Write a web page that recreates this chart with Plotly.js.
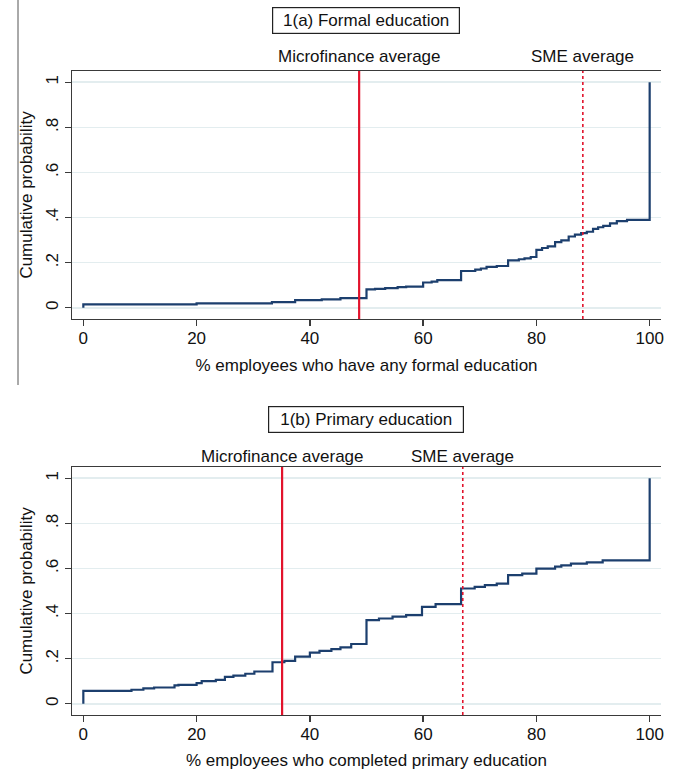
<!DOCTYPE html>
<html>
<head>
<meta charset="utf-8">
<script src="https://cdn.plot.ly/plotly-3.0.1.min.js"></script>
<style>
  html, body { margin: 0; padding: 0; background: #ffffff; }
  #chart { width: 676px; height: 770px; }
</style>
</head>
<body>
<div id="chart"></div>
<script>
// ---------- Data ----------
// Panel 1(a): % employees who have any formal education (empirical CDF steps)
const formalX = [0, 0, 20, 33.3, 37.4, 42.1, 45.4, 50, 51.5, 53.3, 55.5, 57, 60, 61.5, 62.5, 66.7, 69.2, 70.2, 71.2, 73, 75, 76.9, 77.9, 79, 80, 81, 82, 83.3, 84.4, 85.7, 86.8, 87.9, 88.9, 90, 90.9, 91.8, 93, 94.2, 96, 100];
const formalY = [0, 0.015, 0.019, 0.025, 0.034, 0.037, 0.043, 0.081, 0.084, 0.087, 0.091, 0.094, 0.112, 0.116, 0.122, 0.163, 0.169, 0.174, 0.181, 0.185, 0.21, 0.215, 0.219, 0.225, 0.257, 0.265, 0.272, 0.291, 0.299, 0.316, 0.324, 0.331, 0.337, 0.35, 0.357, 0.363, 0.374, 0.384, 0.39, 1];

// Panel 1(b): % employees who completed primary education (empirical CDF steps)
const primaryX = [0, 0, 8.5, 10.6, 12.5, 16.1, 16.8, 20, 20.9, 23.4, 25, 26.5, 28.6, 30.2, 33.4, 35.5, 37.4, 40, 41.7, 43.8, 45.4, 47.3, 50, 52.2, 54.6, 57, 59.8, 62.2, 66.7, 69.1, 70.9, 73, 75, 77.5, 80, 83.3, 84.4, 86.1, 88.9, 91.7, 100];
const primaryY = [0, 0.057, 0.062, 0.068, 0.072, 0.081, 0.084, 0.091, 0.1, 0.106, 0.119, 0.125, 0.133, 0.143, 0.184, 0.19, 0.209, 0.227, 0.234, 0.242, 0.25, 0.265, 0.371, 0.378, 0.386, 0.393, 0.43, 0.442, 0.511, 0.518, 0.526, 0.533, 0.57, 0.577, 0.599, 0.608, 0.614, 0.621, 0.627, 0.636, 1];

// Reference averages (vertical lines)
const formalMicroAvg = 48.7;
const formalSmeAvg = 88.2;
const primaryMicroAvg = 35.1;
const primarySmeAvg = 67.0;

// Texts and ticks
const panelTitles = ["1(a) Formal education", "1(b) Primary education"];
const xTitles = ["% employees who have any formal education", "% employees who completed primary education"];
const yTitle = "Cumulative probability";
const microLabel = "Microfinance average";
const smeLabel = "SME average";
const xTickVals = [0, 20, 40, 60, 80, 100];
const yTickVals = [0, 0.2, 0.4, 0.6, 0.8, 1];
const yTickText = ["0", ".2", ".4", ".6", ".8", "1"];

// ---------- Styling ----------
const FONT = "'Liberation Sans', Arial, sans-serif";
const FS = 17;
const W = 676, H = 770;
const lineBlue = "#1c3f6e";
const red = "#e2132c";
const axisCol = "#3a3a3a";
const gridCol = "#e3edef";

function px2py(p) { return 1 - p / H; }
function px2px(p) { return p / W; }

const xDomain = [px2px(72), px2px(661)];
const topDomain = [px2py(319), px2py(71)];
const botDomain = [px2py(715), px2py(467)];

function xAxis(title, anchor) {
  return {
    domain: xDomain, anchor: anchor, range: [-2, 102],
    tickvals: xTickVals, ticks: "outside", ticklen: 6, tickwidth: 1.3, tickcolor: axisCol,
    showline: true, linecolor: axisCol, linewidth: 1.3, mirror: true,
    showgrid: false, zeroline: false,
    tickfont: { family: FONT, size: FS, color: "#111" },
    ticklabelstandoff: -3,
    title: { text: title, font: { family: FONT, size: FS, color: "#111" }, standoff: 12 },
    fixedrange: true
  };
}
function yAxis(domain, anchor) {
  return {
    domain: domain, anchor: anchor, range: [-0.05, 1.05],
    tickvals: yTickVals, ticktext: yTickText, tickangle: -90,
    ticks: "outside", ticklen: 6, tickwidth: 1.3, tickcolor: axisCol,
    showline: true, linecolor: axisCol, linewidth: 1.3, mirror: false,
    showgrid: true, gridcolor: gridCol, gridwidth: 1.6, zeroline: false,
    tickfont: { family: FONT, size: FS, color: "#111" },
    title: { text: yTitle, font: { family: FONT, size: FS, color: "#111" }, standoff: 6 },
    fixedrange: true
  };
}

const traces = [
  { x: formalX, y: formalY, xaxis: "x", yaxis: "y", type: "scatter", mode: "lines",
    line: { shape: "hv", color: lineBlue, width: 2.2 }, hoverinfo: "x+y" },
  { x: primaryX, y: primaryY, xaxis: "x2", yaxis: "y2", type: "scatter", mode: "lines",
    line: { shape: "hv", color: lineBlue, width: 2.2 }, hoverinfo: "x+y" }
];

function vline(xref, yref, xv, dash, width) {
  return { type: "line", xref: xref, yref: yref + " domain", x0: xv, x1: xv, y0: 0, y1: 1,
           line: { color: red, width: width, dash: dash }, layer: "above" };
}

const shapes = [
  vline("x", "y", formalMicroAvg, "solid", 2.2),
  vline("x", "y", formalSmeAvg, "dot", 1.6),
  vline("x2", "y2", primaryMicroAvg, "solid", 2.2),
  vline("x2", "y2", primarySmeAvg, "dot", 1.6),
  // thin page rule on the far left of the upper panel
  { type: "line", xref: "paper", yref: "paper", x0: px2px(18), x1: px2px(18), y0: 1, y1: px2py(385),
    line: { color: "#555", width: 1 } }
];

function boxTitle(text, yPx, w) {
  return { text: text, xref: "paper", yref: "paper", x: px2px(366), y: px2py(yPx),
           xanchor: "center", yanchor: "middle", showarrow: false,
           font: { family: FONT, size: FS, color: "#111" },
           bordercolor: "#222", borderwidth: 1.2, borderpad: 1, bgcolor: "#fff",
           width: w, height: 23 };
}
function avgLabel(text, xref, xv, yPx) {
  return { text: text, xref: xref, yref: "paper", x: xv, y: px2py(yPx),
           xanchor: "center", yanchor: "middle", showarrow: false,
           font: { family: FONT, size: FS, color: "#111" } };
}

const annotations = [
  boxTitle(panelTitles[0], 20, 184),
  boxTitle(panelTitles[1], 420, 192),
  avgLabel(microLabel, "x", formalMicroAvg, 57),
  avgLabel(smeLabel, "x", formalSmeAvg, 57),
  avgLabel(microLabel, "x2", primaryMicroAvg, 456),
  avgLabel(smeLabel, "x2", primarySmeAvg, 456)
];

const layout = {
  width: W, height: H,
  margin: { l: 0, r: 0, t: 0, b: 0, pad: 0 },
  paper_bgcolor: "#ffffff", plot_bgcolor: "#ffffff",
  showlegend: false,
  font: { family: FONT, size: FS, color: "#111" },
  xaxis: xAxis(xTitles[0], "y"),
  yaxis: yAxis(topDomain, "x"),
  xaxis2: xAxis(xTitles[1], "y2"),
  yaxis2: yAxis(botDomain, "x2"),
  shapes: shapes,
  annotations: annotations
};

Plotly.newPlot("chart", traces, layout, { displayModeBar: false, staticPlot: true });
</script>
</body>
</html>
